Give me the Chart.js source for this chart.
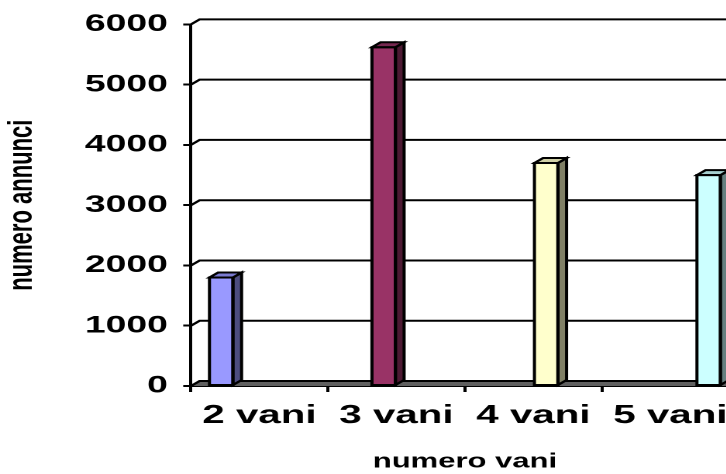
<!DOCTYPE html>
<html>
<head>
<meta charset="utf-8">
<script src="https://cdn.jsdelivr.net/npm/chart.js@4.4.1/dist/chart.umd.min.js"></script>
<style>
  html, body { margin: 0; padding: 0; background: #fff; overflow: hidden; width: 726px; height: 474px; }
  #wrap { width: 726px; height: 474px; overflow: hidden; position: relative; }
  /* the original picture is stretched sideways, so the whole chart is too */
  #chart { position: absolute; left: 0; top: 0; transform: scaleX(1.55); transform-origin: 0 0; }
</style>
</head>
<body>
<div id="wrap"><canvas id="chart" width="490" height="474"></canvas></div>
<script>
const categories = ["2 vani", "3 vani", "4 vani", "5 vani"];
const annunci = [1800, 5620, 3700, 3500];
const yTicks = [0, 1000, 2000, 3000, 4000, 5000, 6000];

const frontColors = ["#9999FF", "#993366", "#FFFFCC", "#CCFFFF"];
const sideColors = ["#4D4D80", "#4D1A33", "#808066", "#668080"];
const topColors = ["#7A7AD0", "#762850", "#D0D0A6", "#A6D0D0"];

// 3D depth offset (canvas px, before stretch)
const DX = 5.6;
const DY = -5;

const depthPlugin = {
  id: "depth",
  beforeDatasetsDraw(chart) {
    const { ctx, chartArea: a, scales: { y } } = chart;
    ctx.save();
    // floor
    const y0 = y.getPixelForValue(0);
    ctx.beginPath();
    ctx.moveTo(a.left, y0);
    ctx.lineTo(a.left + DX, y0 + DY);
    ctx.lineTo(a.right + DX, y0 + DY);
    ctx.lineTo(a.right, y0);
    ctx.closePath();
    ctx.fillStyle = "#606060";
    ctx.fill();
    // back wall gridlines
    ctx.strokeStyle = "#000";
    ctx.lineWidth = 2;
    y.ticks.forEach((t) => {
      const py = y.getPixelForValue(t.value);
      ctx.beginPath();
      ctx.moveTo(a.left, py);
      ctx.lineTo(a.left + DX, py + DY);
      ctx.lineTo(a.right + DX, py + DY);
      ctx.stroke();
    });
    ctx.restore();
  },
  afterDatasetsDraw(chart) {
    const { ctx } = chart;
    ctx.save();
    ctx.strokeStyle = "#000";
    ctx.lineWidth = 2;
    ctx.lineJoin = "miter";
    chart.data.datasets.forEach((ds, i) => {
      const meta = chart.getDatasetMeta(i);
      meta.data.forEach((bar, j) => {
        if (ds.data[j] == null) return;
        const l = bar.x - bar.width / 2;
        const r = bar.x + bar.width / 2;
        // side
        ctx.beginPath();
        ctx.moveTo(r, bar.y);
        ctx.lineTo(r + DX, bar.y + DY);
        ctx.lineTo(r + DX, bar.base + DY);
        ctx.lineTo(r, bar.base);
        ctx.closePath();
        ctx.fillStyle = sideColors[i];
        ctx.fill();
        ctx.stroke();
        // top
        ctx.beginPath();
        ctx.moveTo(l, bar.y);
        ctx.lineTo(l + DX, bar.y + DY);
        ctx.lineTo(r + DX, bar.y + DY);
        ctx.lineTo(r, bar.y);
        ctx.closePath();
        ctx.fillStyle = topColors[i];
        ctx.fill();
        ctx.stroke();
        // front outline
        ctx.strokeRect(l, bar.y, r - l, bar.base - bar.y);
      });
    });
    ctx.restore();
  },
};

new Chart(document.getElementById("chart"), {
  type: "bar",
  data: {
    labels: categories,
    datasets: categories.map((c, i) => ({
      label: c,
      data: categories.map((_, j) => (j === i ? annunci[i] : null)),
      backgroundColor: frontColors[i],
      borderColor: "#000",
      borderWidth: 0,
      categoryPercentage: 0.745,
      barPercentage: 0.92,
    })),
  },
  options: {
    responsive: false,
    animation: false,
    devicePixelRatio: 2,
    layout: { padding: { left: 0, right: 13.3, top: 22, bottom: 0 } },
    plugins: { legend: { display: false }, tooltip: { enabled: false } },
    scales: {
      x: {
        offset: true,
        grid: { offset: true, drawOnChartArea: false, tickLength: 6, color: "#000", lineWidth: 2 },
        border: { display: true, color: "#000", width: 2 },
        ticks: { color: "#000", padding: 8, font: { family: "Liberation Sans", weight: "bold", size: 26 } },
        title: {
          display: true,
          text: "numero vani",
          color: "#000",
          padding: { top: 0, bottom: 0 },
          font: { family: "Liberation Sans", weight: "bold", size: 20 },
        },
        afterFit: (s) => { s.height = 88; },
      },
      y: {
        min: 0,
        max: 6000,
        afterBuildTicks: (s) => { s.ticks = yTicks.map((v) => ({ value: v })); },
        grid: { drawOnChartArea: false, tickLength: 5, color: "#000", lineWidth: 2 },
        border: { display: true, color: "#000", width: 2 },
        ticks: {
          color: "#000",
          padding: 10,
          font: { family: "Liberation Sans", weight: "bold", size: 24 },
          callback: (v) => String(v),
        },
        title: {
          display: true,
          text: "numero annunci",
          color: "#000",
          padding: { top: 1, bottom: 0 },
          font: { family: "Liberation Sans", weight: "bold", size: 22 },
        },
        afterFit: (s) => { s.width = 123.2; },
      },
    },
  },
  plugins: [depthPlugin],
});
</script>
</body>
</html>
